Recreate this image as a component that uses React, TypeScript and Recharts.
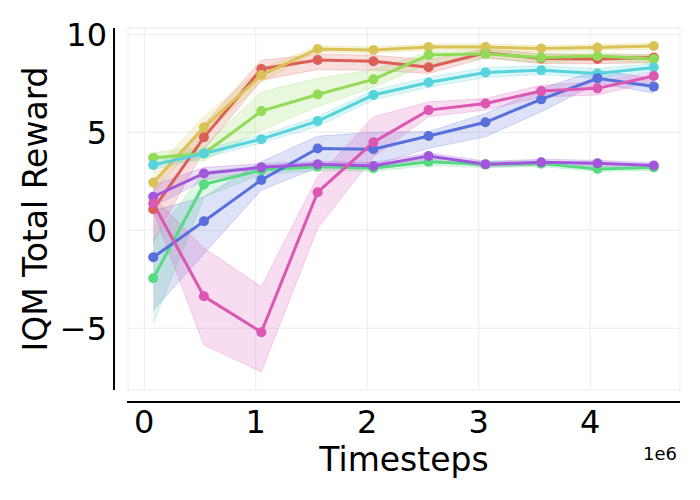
import React from "react";
import { ComposedChart, Area, Line, XAxis, YAxis, CartesianGrid, Label } from "recharts";

const timesteps = [80000, 535000, 1050000, 1555000, 2055000, 2550000, 3060000, 3560000, 4065000, 4570000];

const redMean = [1.07, 4.74, 8.23, 8.69, 8.62, 8.32, 9.05, 8.77, 8.74, 8.81];
const redLo = [-0.6, 4.1, 7.66, 8.2, 8.17, 8.0, 8.8, 8.5, 8.5, 8.55];
const redHi = [2.3, 5.4, 8.68, 8.98, 8.93, 8.7, 9.25, 9.0, 8.95, 8.95];

const yellowMean = [2.44, 5.25, 7.92, 9.25, 9.2, 9.35, 9.35, 9.27, 9.32, 9.4];
const yellowLo = [1.9, 4.85, 7.55, 9.1, 9.05, 9.2, 9.2, 9.1, 9.17, 9.25];
const yellowHi = [3.0, 5.8, 8.25, 9.4, 9.35, 9.5, 9.5, 9.42, 9.47, 9.55];

const limeMean = [3.7, 3.92, 6.08, 6.93, 7.7, 8.94, 9.0, 8.81, 8.89, 8.74];
const limeLo = [3.45, 3.55, 5.1, 6.3, 7.3, 8.5, 8.8, 8.55, 8.7, 8.5];
const limeHi = [3.95, 4.3, 7.07, 7.75, 8.2, 9.1, 9.2, 9.0, 9.05, 8.95];

const greenMean = [-2.45, 2.34, 3.07, 3.24, 3.16, 3.49, 3.35, 3.4, 3.13, 3.2];
const greenLo = [-4.75, 1.7, 2.85, 3.05, 3.0, 3.3, 3.2, 3.25, 3.0, 3.05];
const greenHi = [-0.5, 3.0, 3.3, 3.4, 3.35, 3.65, 3.5, 3.55, 3.3, 3.35];

const cyanMean = [3.33, 3.92, 4.65, 5.57, 6.9, 7.54, 8.05, 8.17, 8.0, 8.31];
const cyanLo = [3.1, 3.7, 4.45, 5.3, 6.65, 7.3, 7.8, 7.95, 7.75, 8.1];
const cyanHi = [3.55, 4.15, 4.85, 5.8, 7.15, 7.8, 8.3, 8.4, 8.25, 8.5];

const blueMean = [-1.38, 0.46, 2.57, 4.17, 4.13, 4.81, 5.51, 6.68, 7.75, 7.33];
const blueLo = [-4.1, -1.2, 2.05, 3.2, 3.3, 4.18, 4.77, 6.05, 7.5, 7.0];
const blueHi = [1.0, 1.7, 3.5, 4.8, 5.0, 5.03, 5.96, 7.23, 8.17, 7.75];

const purpleMean = [1.71, 2.9, 3.21, 3.37, 3.28, 3.79, 3.37, 3.47, 3.42, 3.3];
const purpleLo = [1.2, 2.55, 3.05, 3.22, 3.12, 3.62, 3.22, 3.32, 3.27, 3.15];
const purpleHi = [2.3, 3.2, 3.4, 3.52, 3.45, 3.95, 3.52, 3.62, 3.57, 3.45];

const pinkMean = [1.37, -3.37, -5.2, 1.94, 4.49, 6.13, 6.47, 7.1, 7.24, 7.87];
const pinkLo = [1.0, -5.86, -7.22, 0.1, 3.75, 5.79, 6.13, 6.8, 6.9, 7.58];
const pinkHi = [1.7, -0.9, -2.88, 2.73, 5.78, 6.55, 6.72, 7.4, 7.58, 8.08];

const xTicks = [0, 1000000, 2000000, 3000000, 4000000];
const yTicks = [-5, 0, 5, 10];

// seaborn hls palette, plotted in this order
const series = [
  { key: "red", color: "#db5f57", mean: redMean, lo: redLo, hi: redHi },
  { key: "yellow", color: "#dbc257", mean: yellowMean, lo: yellowLo, hi: yellowHi },
  { key: "lime", color: "#91db57", mean: limeMean, lo: limeLo, hi: limeHi },
  { key: "green", color: "#57db80", mean: greenMean, lo: greenLo, hi: greenHi },
  { key: "cyan", color: "#57d3db", mean: cyanMean, lo: cyanLo, hi: cyanHi },
  { key: "blue", color: "#5770db", mean: blueMean, lo: blueLo, hi: blueHi },
  { key: "purple", color: "#a157db", mean: purpleMean, lo: purpleLo, hi: purpleHi },
  { key: "pink", color: "#db57b2", mean: pinkMean, lo: pinkLo, hi: pinkHi },
];

const data = timesteps.map((t, i) => {
  const row: Record<string, any> = { t };
  series.forEach((s) => {
    row[s.key] = s.mean[i];
    row[s.key + "Band"] = [s.lo[i], s.hi[i]];
  });
  return row;
});

const font = "'DejaVu Sans', sans-serif";

const fmtY = (v: number) => (v < 0 ? "\u2212" + -v : String(v));

const XLabel = (props: any) => {
  const vb = props.viewBox || { x: 120, y: 382, width: 552, height: 102 };
  return (
    <g>
      <text x={vb.x + vb.width / 2} y={463} textAnchor="middle" fontSize={33} fontFamily={font} fill="#000">
        Timesteps
      </text>
      <text x={vb.x + vb.width - 3} y={452} textAnchor="end" fontSize={18} fontFamily={font} fill="#000">
        1e6
      </text>
    </g>
  );
};

const YLabel = (props: any) => {
  const vb = props.viewBox || { x: 0, y: 20, width: 120, height: 362 };
  const cx = 38.5;
  const cy = vb.y + vb.height / 2;
  return (
    <text
      x={cx}
      y={cy}
      transform={`rotate(-90, ${cx}, ${cy})`}
      textAnchor="middle"
      fontSize={33}
      fontFamily={font}
      fill="#000"
    >
      IQM Total Reward
    </text>
  );
};

export default function App() {
  return (
    <div style={{ position: "relative", width: 684, height: 484 }}>
      <ComposedChart width={684} height={484} data={data} margin={{ top: 20, right: 12, bottom: 0, left: 0 }}>
        <CartesianGrid stroke="#ebebeb" strokeWidth={1} />
        <XAxis
          type="number"
          dataKey="t"
          domain={[-146000, 4805000]}
          ticks={xTicks}
          allowDataOverflow
          tickFormatter={(v: number) => String(v / 1000000)}
          axisLine={false}
          tickLine={false}
          tickSize={0}
          tickMargin={20}
          height={102}
          tick={{ fontSize: 32, fontFamily: font, fill: "#000" }}
        >
          <Label content={<XLabel />} />
        </XAxis>
        <YAxis
          type="number"
          domain={[-8.15, 10.32]}
          ticks={yTicks}
          allowDataOverflow
          tickFormatter={fmtY}
          axisLine={false}
          tickLine={false}
          tickSize={0}
          tickMargin={21}
          width={120}
          tick={{ fontSize: 32, fontFamily: font, fill: "#000" }}
        >
          <Label content={<YLabel />} />
        </YAxis>
        {series.flatMap((s) => [
          <Area
            key={s.key + "Band"}
            type="linear"
            dataKey={s.key + "Band"}
            stroke={s.color}
            strokeOpacity={0.25}
            strokeWidth={1}
            fill={s.color}
            fillOpacity={0.2}
            dot={false}
            activeDot={false}
            isAnimationActive={false}
          />,
          <Line
            key={s.key}
            type="linear"
            dataKey={s.key}
            stroke={s.color}
            strokeWidth={3}
            dot={{ r: 5, fill: s.color, stroke: s.color, strokeWidth: 0 }}
            activeDot={false}
            isAnimationActive={false}
          />,
        ])}
      </ComposedChart>
      {/* offset spines like seaborn despine(offset=...) */}
      <div style={{ position: "absolute", left: 104.75, top: 20, width: 2.5, height: 362, background: "#000" }} />
      <div style={{ position: "absolute", left: 119, top: 392.75, width: 553, height: 2.5, background: "#000" }} />
    </div>
  );
}
